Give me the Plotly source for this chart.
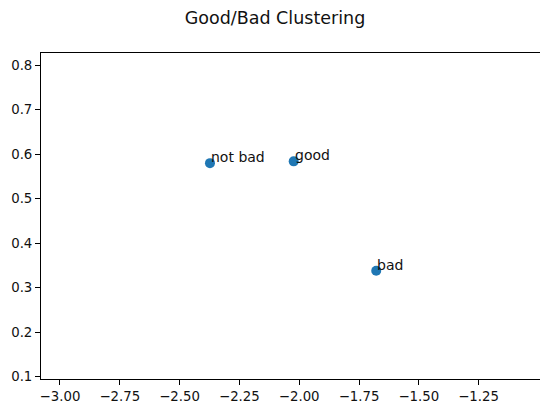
import plotly.graph_objects as go

words = ["not bad", "good", "bad"]
x_vals = [-2.373, -2.023, -1.678]
y_vals = [0.580, 0.584, 0.338]
x_ticks = [-3.00, -2.75, -2.50, -2.25, -2.00, -1.75, -1.50, -1.25]
y_ticks = [0.1, 0.2, 0.3, 0.4, 0.5, 0.6, 0.7, 0.8]
title_text = "Good/Bad Clustering"

FONT = "DejaVu Sans"

fig = go.Figure()
fig.add_trace(go.Scatter(
    x=x_vals, y=y_vals, mode="markers",
    marker=dict(color="#1f77b4", size=10, line=dict(width=0)),
    showlegend=False, hoverinfo="skip",
))

for w, xv, yv in zip(words, x_vals, y_vals):
    fig.add_annotation(
        x=xv, y=yv, text=w, showarrow=False,
        xanchor="left", yanchor="bottom", xshift=-1, yshift=-4,
        font=dict(family=FONT, size=14, color="#111111"),
    )

fig.update_layout(
    width=540, height=406,
    margin=dict(l=41, r=0, t=53, b=27, pad=0, autoexpand=False),
    paper_bgcolor="white", plot_bgcolor="white",
    font=dict(family=FONT, size=13.3, color="#111111"),
    title=dict(
        text=title_text, xref="container", yref="container",
        x=275 / 540, y=1 - 18 / 406, xanchor="center", yanchor="middle",
        font=dict(family=FONT, size=17.5, color="#111111"),
    ),
)

fig.update_xaxes(
    range=[-3.0794, -0.9933], tickmode="array", tickvals=x_ticks, tickformat=".2f",
    showgrid=False, zeroline=False, automargin=False,
    showline=True, linecolor="black", linewidth=1, mirror=True,
    ticks="outside", ticklen=5, tickcolor="black", tickwidth=1,
)
fig.update_yaxes(
    range=[0.0948, 0.8276], tickmode="array", tickvals=y_ticks, tickformat=".1f",
    showgrid=False, zeroline=False, automargin=False,
    showline=True, linecolor="black", linewidth=1, mirror=False,
    ticks="outside", ticklen=5, tickcolor="black", tickwidth=1,
)

fig.write_html(
    "out.html",
    config={"displayModeBar": False},
    post_script="document.body.style.margin='0';document.body.style.padding='0';document.body.style.overflow='hidden';",
)
